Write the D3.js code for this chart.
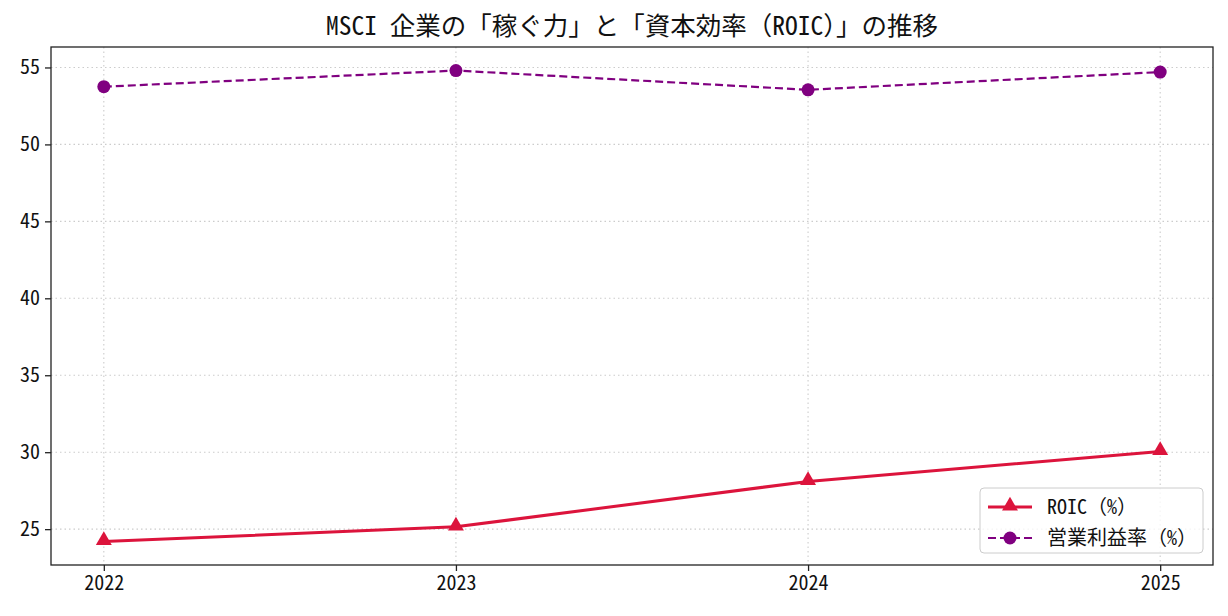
<!DOCTYPE html>
<html>
<head>
<meta charset="utf-8">
<script src="https://cdn.jsdelivr.net/npm/d3@7"></script>
<style>
  body { margin: 0; background: #fff; }
  text { font-family: "Noto Sans Mono CJK JP", "Noto Sans CJK JP", sans-serif; }
</style>
</head>
<body>
<div id="chart"></div>
<script>
// data
const years = [2022, 2023, 2024, 2025];
const roic = [24.2, 25.15, 28.1, 30.05];
const opMargin = [53.75, 54.8, 53.55, 54.7];
const yTicks = [25, 30, 35, 40, 45, 50, 55];
const seriesNames = ["ROIC（%）", "営業利益率（%）"];
const chartTitle = "MSCI 企業の「稼ぐ力」と「資本効率（ROIC）」の推移";

const WIDTH = 1228, HEIGHT = 616;
const MARGIN = { top: 47, right: 15, bottom: 51, left: 51 };

const svg = d3.select("#chart").append("svg")
    .attr("width", WIDTH)
    .attr("height", HEIGHT);

const plotW = WIDTH - MARGIN.left - MARGIN.right;
const plotH = HEIGHT - MARGIN.top - MARGIN.bottom;

const g = svg.append("g")
    .attr("transform", `translate(${MARGIN.left},${MARGIN.top})`);

// matplotlib style 5% padding
const xPad = (years[years.length - 1] - years[0]) * 0.05;
const scaleX = d3.scaleLinear()
    .domain([years[0] - xPad, years[years.length - 1] + xPad])
    .range([0, plotW]);

const allVals = roic.concat(opMargin);
const yMin = d3.min(allVals), yMax = d3.max(allVals);
const yPad = (yMax - yMin) * 0.05;
const scaleY = d3.scaleLinear()
    .domain([yMin - yPad, yMax + yPad])
    .range([plotH, 0]);

// grid
g.append("g").selectAll("line")
    .data(yTicks)
    .join("line")
    .attr("x1", 0).attr("x2", plotW)
    .attr("y1", d => scaleY(d)).attr("y2", d => scaleY(d))
    .attr("stroke", "#cccccc")
    .attr("stroke-width", 1.1)
    .attr("stroke-dasharray", "1.5,3");

g.append("g").selectAll("line")
    .data(years)
    .join("line")
    .attr("x1", d => scaleX(d)).attr("x2", d => scaleX(d))
    .attr("y1", 0).attr("y2", plotH)
    .attr("stroke", "#cccccc")
    .attr("stroke-width", 1.1)
    .attr("stroke-dasharray", "1.5,3");

// axes
const xAxis = g.append("g")
    .attr("transform", `translate(0,${plotH})`)
    .call(d3.axisBottom(scaleX).tickValues(years).tickFormat(d3.format("d")).tickSize(6).tickPadding(5));

const yAxis = g.append("g")
    .call(d3.axisLeft(scaleY).tickValues(yTicks).tickSize(6).tickPadding(5));

[xAxis, yAxis].forEach(ax => {
    ax.select(".domain").remove();
    ax.selectAll(".tick line").attr("stroke", "#222").attr("stroke-width", 1.3);
    ax.selectAll(".tick text")
        .attr("fill", "#111")
        .style("font-size", "20px");
});

// frame
g.append("rect")
    .attr("width", plotW).attr("height", plotH)
    .attr("fill", "none")
    .attr("stroke", "#222")
    .attr("stroke-width", 1.3);

const line = d3.line()
    .x((d, i) => scaleX(years[i]))
    .y(d => scaleY(d));

// ROIC
g.append("path")
    .datum(roic)
    .attr("d", line)
    .attr("fill", "none")
    .attr("stroke", "#DC143C")
    .attr("stroke-width", 3);

const tri = d3.symbol().type(d3.symbolTriangle).size(110);
g.append("g").selectAll("path")
    .data(roic)
    .join("path")
    .attr("d", tri)
    .attr("transform", (d, i) => `translate(${scaleX(years[i])},${scaleY(d) - 1})`)
    .attr("fill", "#DC143C");

// operating margin
g.append("path")
    .datum(opMargin)
    .attr("d", line)
    .attr("fill", "none")
    .attr("stroke", "#800080")
    .attr("stroke-width", 2.2)
    .attr("stroke-dasharray", "8,4");

g.append("g").selectAll("circle")
    .data(opMargin)
    .join("circle")
    .attr("cx", (d, i) => scaleX(years[i]))
    .attr("cy", d => scaleY(d))
    .attr("r", 6.5)
    .attr("fill", "#800080");

// title
svg.append("text")
    .attr("x", MARGIN.left + plotW / 2)
    .attr("y", 35)
    .attr("text-anchor", "middle")
    .style("font-size", "25.5px")
    .attr("fill", "#111")
    .text(chartTitle);

// legend
const legW = 223, legH = 65;
const leg = g.append("g")
    .attr("transform", `translate(${plotW - legW - 10},${plotH - legH - 12})`);

leg.append("rect")
    .attr("width", legW).attr("height", legH)
    .attr("rx", 4)
    .attr("fill", "white")
    .attr("fill-opacity", 0.8)
    .attr("stroke", "#ccc");

const legItems = [
    { name: seriesNames[0], color: "#DC143C", dash: null, width: 3, marker: "tri" },
    { name: seriesNames[1], color: "#800080", dash: "8,4", width: 2.2, marker: "circle" }
];

legItems.forEach((it, i) => {
    const y = 19 + i * 31;
    leg.append("line")
        .attr("x1", 8).attr("x2", 52)
        .attr("y1", y).attr("y2", y)
        .attr("stroke", it.color)
        .attr("stroke-width", it.width)
        .attr("stroke-dasharray", it.dash);
    if (it.marker === "tri") {
        leg.append("path")
            .attr("d", tri)
            .attr("transform", `translate(30,${y - 1})`)
            .attr("fill", it.color);
    } else {
        leg.append("circle")
            .attr("cx", 30).attr("cy", y).attr("r", 6.5)
            .attr("fill", it.color);
    }
    leg.append("text")
        .attr("x", 67).attr("y", y + 7)
        .style("font-size", "20px")
        .attr("fill", "#111")
        .text(it.name);
});
</script>
</body>
</html>
